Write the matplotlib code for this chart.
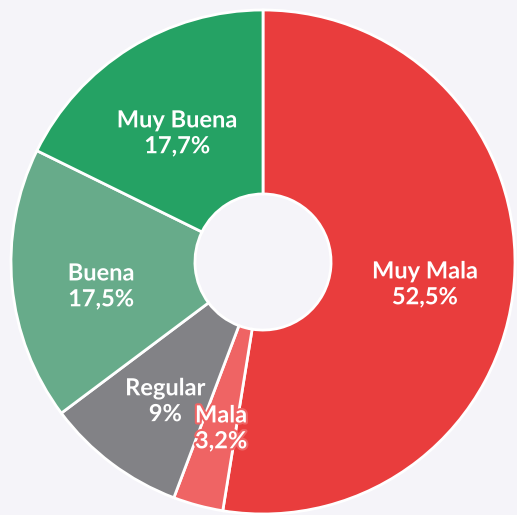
import matplotlib.pyplot as plt
import matplotlib.patheffects as pe
import numpy as np

labels = ["Muy Mala", "Mala", "Regular", "Buena", "Muy Buena"]
values = [52.5, 3.2, 9.0, 17.5, 17.7]
pct_text = ["52,5%", "3,2%", "9%", "17,5%", "17,7%"]
colors = ["#e93d3d", "#ef6464", "#828286", "#67ab8a", "#25a264"]

bg = "#f5f4f9"

fig = plt.figure(figsize=(5.17, 5.15), dpi=100, facecolor=bg)
ax = fig.add_axes([0, 0, 1, 1])
ax.set_facecolor(bg)

wedges, _ = ax.pie(values, colors=colors, startangle=90, counterclock=False,
                   radius=1.0, wedgeprops=dict(width=0.73, edgecolor="white", linewidth=2))

# labels sit at the wedge mid angle
for w, lab, pct, c in zip(wedges, labels, pct_text, colors):
    mid = np.deg2rad((w.theta1 + w.theta2) / 2)
    r = 0.645
    x, y = r * np.cos(mid), r * np.sin(mid) - 0.035
    ax.text(x, y, lab + "\n" + pct, ha="center", va="center",
            fontsize=17, fontweight="bold", family="Lato", color="white",
            linespacing=1.15,
            path_effects=[pe.withStroke(linewidth=3, foreground=c)])

ax.set_xlim(-263 / 252, (517 - 263) / 252)
ax.set_ylim(-(515 - 262) / 252, 262 / 252)
ax.axis("off")

fig.savefig("out.png", dpi=100, facecolor=bg)
